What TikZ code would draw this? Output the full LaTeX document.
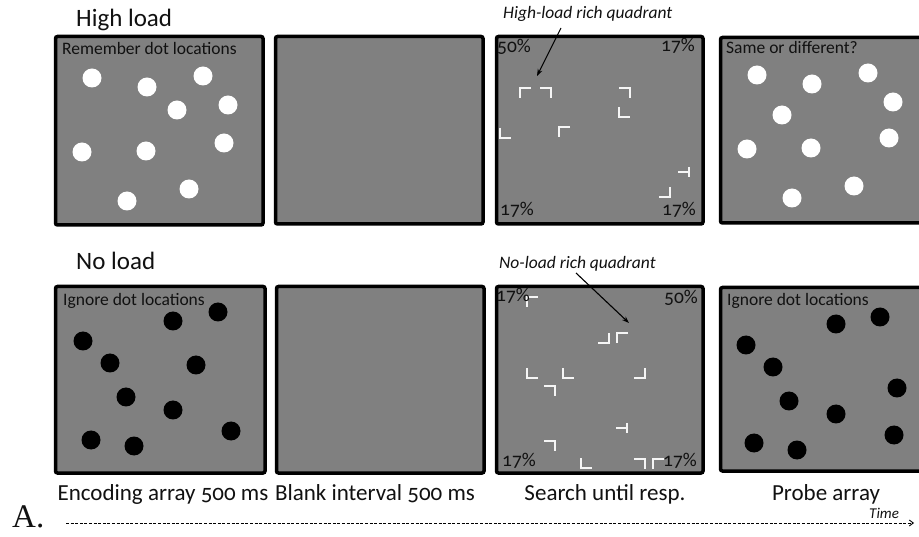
\documentclass[tikz,border=0pt]{standalone}
\usepackage{fontspec}
\setmainfont{Carlito}[Numbers=OldStyle]
\newfontfamily\serifA{Liberation Serif}
\usetikzlibrary{arrows.meta}
\definecolor{panelgray}{HTML}{808080}
\definecolor{txtdark}{HTML}{111111}
\newcommand\fsz[1]{\fontsize{#1}{#1}\selectfont}
\newcommand\mkpanel[5]{%
  \node[panel, anchor=north west, minimum width={(#4-#2-3.5)*1pt},
        minimum height={(#5-#3-3.5)*1pt}] (#1) at ({#2+1.75},{#3+1.75}) {};}
\begin{document}
\begin{tikzpicture}[x=1pt,y=-1pt,
  panel/.style={draw=black, line width=3.5pt, fill=panelgray, rounded corners=2pt, inner sep=0pt},
  wdot/.style={fill=white},
  bdot/.style={fill=black},
  glyph/.style={draw=white!92!gray, line width=1.1pt},
  lbl/.style={inner sep=0pt, anchor=base west, text=txtdark},
  phase/.style={inner sep=0pt, anchor=base, text=txtdark, font=\fsz{23}},
  pct/.style={inner sep=0pt, anchor=base west, text=txtdark, font=\fsz{19.5}},
  gTL/.pic={\draw[glyph] (11,0) -- (0,0) -- (0,10);},
  gTR/.pic={\draw[glyph] (-11,0) -- (0,0) -- (0,10);},
  gBL/.pic={\draw[glyph] (0,-10) -- (0,0) -- (11,0);},
  gBR/.pic={\draw[glyph] (0,-10) -- (0,0) -- (-11,0);},
  gT/.pic={\draw[glyph] (0,-5) -- (0,5) (-11,0) -- (0,0);},
  ]
\useasboundingbox[fill=white] (0,0) rectangle (919,537);
\clip (0,0) rectangle (919,537);
% panels
\mkpanel{t1}{52}{33}{263}{225}
\mkpanel{t2}{272}{33}{483}{224}
\mkpanel{t3}{493}{33}{703}{224}
\mkpanel{t4}{717}{34}{935}{223}
\mkpanel{b1}{52}{283}{265}{473}
\mkpanel{b2}{273}{283}{484}{473}
\mkpanel{b3}{493}{283}{703}{473}
\mkpanel{b4}{717}{284}{935}{471}
% row titles
\node[lbl, font=\fsz{25}] (hl) at (76,27) {High load};
\node[lbl, font=\fsz{25}] (nl) at (76,270) {No load};
% instructions
\node[lbl, font=\fsz{17.5}] (rem) at (62,55) {Remember dot locations};
\node[lbl, font=\fsz{17.5}] (same) at (726,54) {Same or different?};
\node[lbl, font=\fsz{17.5}] (ign1) at (63,306) {Ignore dot locations};
\node[lbl, font=\fsz{17.5}] (ign2) at (727,306) {Ignore dot locations};
% white dots (encoding, high load)
\foreach \x/\y in {92/78,147/87,203/76,177/110,228/105,82/152,146/151,224/143,189/189,127/201}
  \fill[wdot] (\x,\y) circle[radius=9.5];
% white dots (probe, high load)
\foreach \x/\y in {757/75,812/84,868/73,893/102,782/115,747/149,811/148,889/138,854/186,792/198}
  \fill[wdot] (\x,\y) circle[radius=9.5];
% black dots (encoding, no load)
\foreach \x/\y in {173/321,218/312,83/341,110/363,196/365,126/397,173/410,231/431,91/440,134/446}
  \fill[bdot] (\x,\y) circle[radius=9.5];
% black dots (probe, no load)
\foreach \x/\y in {836/324,880/317,746/345,773/367,897/388,789/401,836/414,894/435,754/443,797/450}
  \fill[bdot] (\x,\y) circle[radius=9.5];
% search array, high load
\pic at (520,88) {gTL};
\pic at (551,88) {gTR};
\pic at (630,88) {gTR};
\pic at (619,117) {gBL};
\pic at (500,138) {gBL};
\pic at (559,127) {gTL};
\pic at (689,172) {gT};
\pic at (670,197) {gBR};
\node[pct] (p1) at (497,53) {50\%};
\node[pct] (p2) at (661,52) {17\%};
\node[pct] (p3) at (500,216) {17\%};
\node[pct] (p4) at (662,216) {17\%};
% search array, no load
\pic at (527,297) {gTL};
\pic at (609,343) {gBR};
\pic at (617,333) {gTL};
\pic at (527,378) {gBL};
\pic at (563,378) {gBL};
\pic at (645,378) {gBR};
\pic at (555,386) {gTR};
\pic at (627,428) {gT};
\pic at (555,441) {gTR};
\pic at (581,468) {gBL};
\pic at (645,459) {gTR};
\pic at (653,459) {gTL};
\node[pct] (q1) at (496,302) {17\%};
\node[pct] (q2) at (664,304) {50\%};
\node[pct] (q3) at (502,466) {17\%};
\node[pct] (q4) at (663,466) {17\%};
% quadrant labels and arrows
\node[lbl, font=\fsz{17.5}\itshape] (hlq) at (503,19) {High-load rich quadrant};
\node[lbl, font=\fsz{17.5}\itshape] (nlq) at (499,269) {No-load rich quadrant};
\coordinate (hlqs) at (561,28);
\coordinate (hlqe) at (537,76);
\coordinate (nlqs) at (576,273);
\coordinate (nlqe) at (629,323);
\draw[line width=1.1pt, -{Stealth[length=7pt,width=5pt]}] (hlqs) -- (hlqe);
\draw[line width=1.1pt, -{Stealth[length=7pt,width=5pt]}] (nlqs) -- (nlqe);
% phase labels
\node[phase] (enc) at (163,500) {Encoding array 500 ms};
\node[phase] (blank) at (375,500) {Blank interval 500 ms};
\node[phase] (srch) at (605,500) {Search until resp.};
\node[phase] (probe) at (826,500) {Probe array};
% time axis
\node[lbl, font=\serifA\fsz{33}] (A) at (12,527) {A.};
\node[lbl, font=\fsz{15}\itshape] (time) at (869,518) {Time};
\coordinate (ts) at (66,523);
\coordinate (te) at (914,523);
\draw[line width=0.9pt, dash pattern=on 3pt off 1.6pt, -{Straight Barb[length=4pt,width=6pt]}] (ts) -- (te);
\end{tikzpicture}
\end{document}
